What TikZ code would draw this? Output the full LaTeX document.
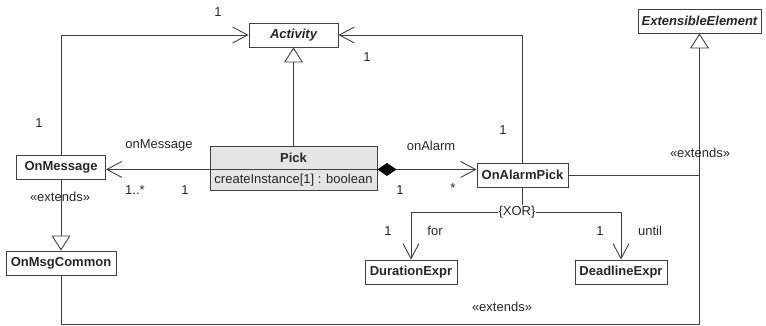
\documentclass[tikz,border=0pt]{standalone}
\usepackage{fontspec}
\setmainfont{Liberation Sans}
\usetikzlibrary{arrows.meta}

\begin{document}
\begin{tikzpicture}[x=1pt, y=-1pt,
    every node/.style={font=\fontsize{13}{15}\selectfont, text=black!85},
    cls/.style={draw=black!75, fill=white, line width=0.9pt, font=\fontsize{13}{15}\selectfont\bfseries, minimum height=24pt, inner sep=2pt},
    abs/.style={cls, font=\fontsize{13}{15}\selectfont\bfseries\itshape},
    link/.style={draw=black!75, line width=0.9pt},
    assoc/.style={link, -{Straight Barb[length=15pt, width=16pt]}},
    gen/.style={link, -{Triangle[open, length=15pt, width=19pt, fill=white]}},
    comp/.style={link, {Diamond[length=19pt, width=13pt, color=black, fill=black]}-{Straight Barb[length=15pt, width=16pt]}}]
    \useasboundingbox (0,0) rectangle (766,326);

    % Classes
    \node[abs, minimum width=89pt] (act) at (293.5,35) {Activity};
    \node[abs, minimum width=123pt] (ext) at (699.5,21) {ExtensibleElement};
    \node[cls, minimum width=89pt] (onmsg) at (61,167.5) {OnMessage};
    \node[cls, minimum width=110pt] (onmsgc) at (61,263) {OnMsgCommon};
    \node[cls, fill=black!10, minimum width=167pt, minimum height=23pt] (pick) at (293.5,157.5) {Pick};
    \node[cls, fill=black!10, font=\fontsize{13}{15}\selectfont, minimum width=167pt, minimum height=21pt, anchor=north] (pickop) at (pick.south) {createInstance[1] : boolean};
    \node[cls, minimum width=91pt] (onalarm) at (522.5,175) {OnAlarmPick};
    \node[cls, minimum width=92pt] (dur) at (411,272) {DurationExpr};
    \node[cls, minimum width=92pt] (dead) at (621,272) {DeadlineExpr};

    % Generalizations
    \draw[gen] (pick.north) -- (act.south);
    \draw[gen] (onmsg.south) -- (onmsgc.north);
    \draw[gen] (onmsgc.south) -- ++(0,49) -| (ext.south);
    \draw[link] (onalarm.east) -- (onalarm.east -| ext.south);

    % Associations
    \draw[assoc] (onmsg.north) |- (act.west);
    \draw[assoc] (onalarm.north) |- (act.east);
    \draw[assoc] (pick.south west) -- (pick.south west -| onmsg.east);
    \draw[comp] (pick.south east) -- (pick.south east -| onalarm.west);

    % XOR choice
    \draw[link] (onalarm.south) -- ++(0,25) coordinate (xor);
    \draw[assoc] (xor) -| (dur.north);
    \draw[assoc] (xor) -| (dead.north);
    \node[fill=white, inner sep=1pt] (xorlbl) at (517,212) {\{XOR\}};

    % Multiplicities and roles
    \foreach \x/\y/\t in {218/12/1, 39/123/1, 367/57/1, 503/130/1, 135/190/1..*, 185/190/1,
                          400/190/1, 453/188/*, 388/231/1, 600/231/1, 435/231/for, 650/231/until,
                          159/145/onMessage, 431/146/onAlarm}
        \node (m-\x) at (\x,\y) {\t};

    % Stereotypes
    \node (ext1) at (60,197) {«extends»};
    \node (ext2) at (700,153) {«extends»};
    \node (ext3) at (502,307) {«extends»};
\end{tikzpicture}
\end{document}
